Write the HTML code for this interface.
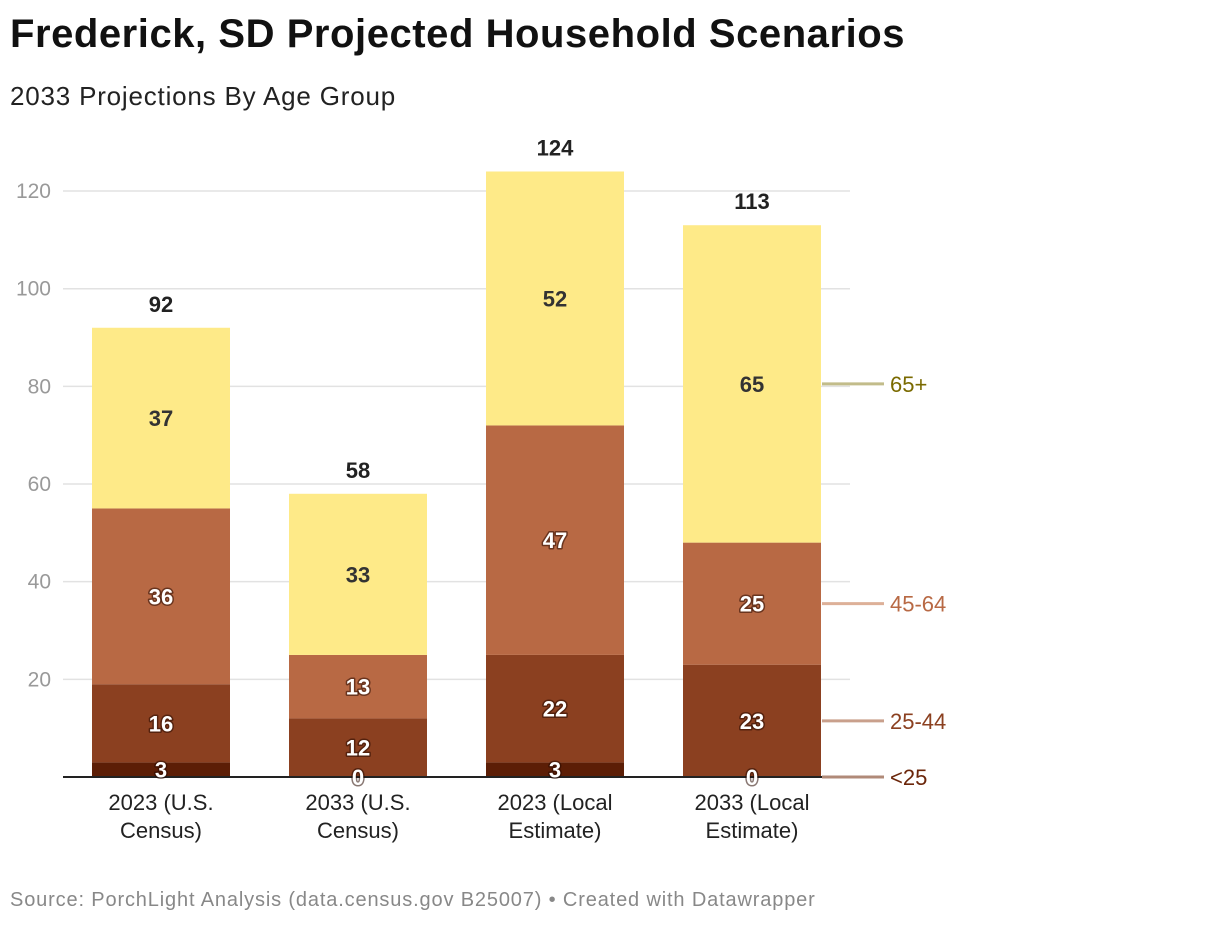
<!DOCTYPE html>
<html><head><meta charset="utf-8"><style>
body{margin:0;background:#fff;font-family:"Liberation Sans",sans-serif;}
#wrap{position:relative;width:1220px;height:926px;overflow:hidden;}
h1{position:absolute;left:10px;top:12px;margin:0;font-size:40px;font-weight:bold;color:#111;letter-spacing:0.55px;}
.sub{position:absolute;left:10px;top:81px;font-size:26px;color:#222;letter-spacing:0.8px;}
.src{position:absolute;left:10px;top:889px;font-size:20px;color:#888;letter-spacing:0.85px;}
</style></head><body>
<div id="wrap">
<h1>Frederick, SD Projected Household Scenarios</h1>
<div class="sub">2033 Projections By Age Group</div>
<svg id="chart" width="1220" height="926" style="position:absolute;left:0;top:0"></svg>
<div class="src">Source: PorchLight Analysis (data.census.gov B25007) • Created with Datawrapper</div>
</div>
<script>
const categories=[["2023 (U.S.","Census)"],["2033 (U.S.","Census)"],["2023 (Local","Estimate)"],["2033 (Local","Estimate)"]];
const under25=[3,0,3,0];
const age25to44=[16,12,22,23];
const age45to64=[36,13,47,25];
const age65plus=[37,33,52,65];
const totals=[92,58,124,113];
const yTicks=[20,40,60,80,100,120];
const seriesNames=["<25","25-44","45-64","65+"];
const series=[under25,age25to44,age45to64,age65plus];
const fills=["#5c1e06","#8b4020","#b86944","#feea88"];
const legendText=["#6b260a","#8b4020","#b86944","#7a6a00"];
const legendLine=["#b08a78","#c9a08c","#ddb098","#c2bc8a"];
const labelColor=["#fff","#fff","#fff","#333"];
const svg=document.getElementById('chart');
const NS='http://www.w3.org/2000/svg';
const y0=777,pxPer=4.883;
function y(v){return y0-v*pxPer;}
function x(i){return 92+i*197;}
const bw=138;
function mk(t,a,txt){const e=document.createElementNS(NS,t);for(const k in a)e.setAttribute(k,a[k]);if(txt!==undefined)e.textContent=txt;svg.appendChild(e);return e;}
yTicks.forEach(t=>{
 const g=mk('line',{x1:63,x2:850,y1:y(t),y2:y(t),stroke:'#e2e2e2','stroke-width':1.5});
 
 
 const l=mk('text',{x:51,y:y(t)+7,'text-anchor':'end','font-size':21,fill:'#999'},t);
 
 
});
categories.forEach((c,i)=>{
 let base=0;
 series.forEach((s,k)=>{
  const v=s[i];
  if(v>0){
   const r=mk('rect',{x:x(i),y:y(base+v),width:bw,height:v*pxPer,fill:fills[k]});
   
   
  }
  base+=v;
 });
});
const ax=mk('line',{x1:63,x2:850,y1:y0,y2:y0,stroke:'#222','stroke-width':2});


categories.forEach((c,i)=>{
 let base=0;
 series.forEach((s,k)=>{
  const v=s[i];
  const t=mk('text',{x:x(i)+bw/2,y:y(base+v/2)+8,'text-anchor':'middle','font-size':22,'font-weight':'bold',fill:labelColor[k],style:k<3?'paint-order:stroke;stroke:rgba(40,10,0,0.55);stroke-width:3px;stroke-linejoin:round':''},v);
  
  
  base+=v;
 });
 const tot=mk('text',{x:x(i)+bw/2,y:y(totals[i])-16,'text-anchor':'middle','font-size':22,'font-weight':'bold',fill:'#222'},totals[i]);
 
 
 c.forEach((line,j)=>{
  const xl=mk('text',{x:x(i)+bw/2,y:810+j*28,'text-anchor':'middle','font-size':22,fill:'#222'},line);
  
  
 });
});
let base=0;const li=3;
series.forEach((s,k)=>{
 const v=s[li];const ly=y(base+v/2);base+=v;
 const ln=mk('line',{x1:822,x2:884,y1:ly,y2:ly,stroke:legendLine[k],'stroke-width':3});
 
 
 const lt=mk('text',{x:890,y:ly+8,'font-size':22,fill:legendText[k]},seriesNames[k]);
 
 
});
</script>
</body></html>
